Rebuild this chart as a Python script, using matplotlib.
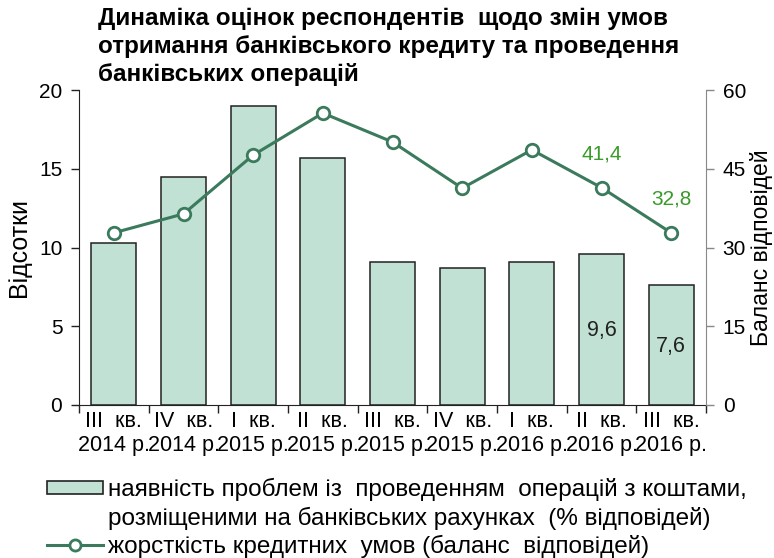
import matplotlib
matplotlib.use("Agg")
import matplotlib.pyplot as plt
from matplotlib.lines import Line2D
from matplotlib.patches import Patch
import numpy as np

FONT = ['Liberation Sans', 'DejaVu Sans']
plt.rcParams['font.family'] = FONT

quarters = ["III  кв.\n2014 р.", "IV  кв.\n2014 р.", "I  кв.\n2015 р.",
            "II  кв.\n2015 р.", "III  кв.\n2015 р.", "IV  кв.\n2015 р.",
            "I  кв.\n2016 р.", "II  кв.\n2016 р.", "III  кв.\n2016 р."]
problems_pct = [10.3, 14.5, 19.0, 15.7, 9.1, 8.7, 9.1, 9.6, 7.6]
tightness_balance = [32.8, 36.4, 47.6, 55.6, 50.1, 41.3, 48.6, 41.4, 32.8]

bar_color = "#c0e1d3"
line_color = "#3b7a5c"
label_green = "#3a9a2a"

fig = plt.figure(figsize=(7.74, 5.58), dpi=100)
ax = fig.add_axes([79/774, 1 - 405/558, (706-79)/774, 315/558])
ax2 = ax.twinx()

x = np.arange(len(quarters))
ax.bar(x, problems_pct, width=0.65, color=bar_color, edgecolor="#222222",
       linewidth=1.1, zorder=2)
ax.set_xlim(-0.5, len(quarters) - 0.5)
ax.set_ylim(0, 20)
ax.set_yticks([0, 5, 10, 15, 20])
ax.tick_params(axis='y', labelsize=15, length=6, width=1, color="#222222", pad=6)
ax.set_xticks(x)
ax.set_xticklabels(quarters, fontsize=15.5, linespacing=1.2)
ax.tick_params(axis='x', length=0, pad=4)
ax.set_xticks(np.arange(-0.5, len(quarters)), minor=True)
ax.tick_params(axis='x', which='minor', length=6, width=1, color="#222222")
ax.set_ylabel("Відсотки", fontsize=18, labelpad=6)

ax2.plot(x, tightness_balance, color=line_color, linewidth=2.2, marker='o',
         markersize=9, markerfacecolor='white', markeredgecolor=line_color,
         markeredgewidth=2, zorder=3)
ax2.set_ylim(0, 60)
ax2.set_yticks([0, 15, 30, 45, 60])
ax2.tick_params(axis='y', labelsize=15, length=6, width=1, color="#888888", pad=6)
ax2.set_ylabel("Баланс відповідей", fontsize=16.5, rotation=90, labelpad=3)

for a in (ax, ax2):
    a.spines['top'].set_visible(False)
ax.spines['right'].set_visible(False)
ax2.spines['left'].set_visible(False)
ax2.spines['bottom'].set_visible(False)
ax2.spines['right'].set_color("#888888")
ax.spines['left'].set_color("#222222")
ax.spines['bottom'].set_color("#222222")

# value labels
for i in (7, 8):
    ax2.annotate(f"{tightness_balance[i]:.1f}".replace('.', ','),
                 (x[i], tightness_balance[i]), xytext=(0, 24),
                 textcoords='offset points', ha='center', va='center',
                 fontsize=15, color=label_green)
    ax.text(x[i], problems_pct[i] * 0.49,
            f"{problems_pct[i]:.1f}".replace('.', ','),
            ha='center', va='center', fontsize=15.5, color="#222222", zorder=4)

fig.text(98/774, 1 - 7/558,
         "Динаміка оцінок респондентів  щодо змін умов\n"
         "отримання банківського кредиту та проведення\n"
         "банківських операцій",
         ha='left', va='top', fontsize=17.5, fontweight='bold',
         linespacing=1.28)

handles = [
    Patch(facecolor=bar_color, edgecolor="#222222", linewidth=1.2),
    Patch(facecolor='none', edgecolor='none'),
    Line2D([0], [0], color=line_color, linewidth=2.2, marker='o', markersize=8,
           markerfacecolor='white', markeredgecolor=line_color, markeredgewidth=2),
]
labels = [
    "наявність проблем із  проведенням  операцій з коштами,",
    "розміщеними на банківських рахунках  (% відповідей)",
    "жорсткість кредитних  умов (баланс  відповідей)",
]
fig.legend(handles, labels, loc='upper left', bbox_to_anchor=(47/774, 1 - 478/558),
           frameon=False, fontsize=17.5, handlelength=2.3, handleheight=0.5,
           handletextpad=0.2, labelspacing=0.22, borderpad=0, borderaxespad=0)

fig.savefig("out.png", dpi=100)
